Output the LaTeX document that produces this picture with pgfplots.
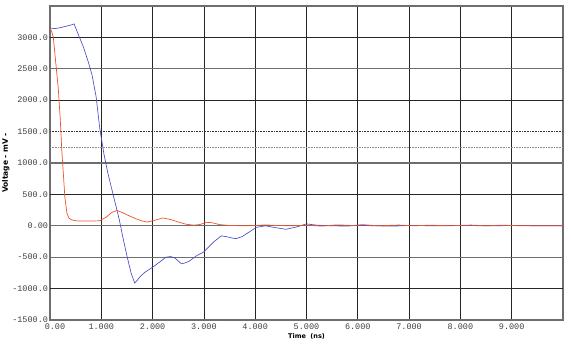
\documentclass[border=0pt]{standalone}
\usepackage{pgfplots}
\pgfplotsset{compat=1.18}
\usepackage{fontspec}
\setmainfont{Liberation Mono}
\newfontfamily\labfont{DejaVu Sans}
\definecolor{bl}{RGB}{75,75,200}
\definecolor{orr}{RGB}{235,85,40}
\definecolor{gl}{RGB}{110,110,110}
\begin{document}
\begin{tikzpicture}
\begin{axis}[name=ax,
  scale only axis, width=513pt, height=314pt,
  xmin=0, xmax=10, ymin=-1500, ymax=3500,
  xtick={0,1,...,9}, xticklabels={\hspace*{10pt}0.00,1.000,2.000,3.000,4.000,5.000,6.000,7.000,8.000,9.000},
  ytick={-1500,-1000,...,3000}, yticklabels={-1500.0,-1000.0,-500.0,0.00,500.0,1000.0,1500.0,2000.0,2500.0,3000.0},
  tick label style={font=\fontsize{8.5}{9}\selectfont, text=black!75},
  xticklabel style={yshift=0pt},
  yticklabel style={xshift=1.5pt},
  major tick length=0pt,
  xmajorgrids=true, major grid style={black!85, line width=0.7pt},
  axis line style={gl, line width=1.3pt},
  xlabel={\labfont\bfseries Time\ \ (ns)}, xlabel style={font=\fontsize{6.5}{7}\selectfont, yshift=3pt},
  ylabel={\labfont\bfseries Voltage - mV -}, ylabel style={font=\fontsize{7.5}{8}\selectfont, yshift=-4pt},
  clip=true,
]
\addplot[black!85, line width=0.7pt, forget plot] coordinates {(0,3000) (10,3000)};
\addplot[black!85, line width=0.7pt, forget plot] coordinates {(0,2000) (10,2000)};
\addplot[black!85, line width=0.7pt, forget plot] coordinates {(0,500) (10,500)};
\addplot[black!85, line width=0.7pt, forget plot] coordinates {(0,-1000) (10,-1000)};
\addplot[gl, line width=1.3pt, forget plot] coordinates {(0,2500) (10,2500)};
\addplot[gl, line width=1.3pt, forget plot] coordinates {(0,1000) (10,1000)};
\addplot[gl, line width=1.3pt, forget plot] coordinates {(0,-500) (10,-500)};
\addplot[gl, line width=1.3pt, forget plot] coordinates {(0,0) (10,0)};
\addplot[black!80, densely dotted, line width=0.6pt, forget plot] coordinates {(0,1500) (10,1500)};
\addplot[black!45, densely dotted, line width=0.6pt, forget plot] coordinates {(0,1250) (10,1250)};
\addplot[bl, line width=0.65pt] coordinates {
(0,3150) (0.1,3140) (0.2,3155) (0.3,3175) (0.4,3195) (0.47,3215) (0.55,3050) (0.65,2850) (0.75,2600) (0.82,2400) (0.9,2050) (0.97,1550) (1.05,1150) (1.13,830) (1.2,600) (1.26,400) (1.35,100) (1.42,-180) (1.5,-480) (1.58,-750) (1.65,-910) (1.7,-870) (1.75,-815) (1.85,-740) (2.0,-660) (2.15,-570) (2.26,-500) (2.35,-490) (2.43,-510) (2.5,-560) (2.56,-605) (2.64,-590) (2.72,-560) (2.85,-480) (2.99,-420) (3.1,-330) (3.2,-250) (3.34,-160) (3.45,-175) (3.55,-195) (3.63,-205) (3.75,-170) (3.9,-90) (4.02,-25) (4.2,0) (4.4,-30) (4.6,-55) (4.8,-20) (5.0,30) (5.2,10) (5.5,0) (5.8,-5) (6.0,10) (6.3,0) (6.7,-5) (7.0,5) (7.5,0) (8.0,5) (8.5,0) (9.0,3) (10,0)};
\addplot[orr, line width=0.7pt] coordinates {
(0,3150) (0.03,3100) (0.065,3000) (0.1,2700) (0.13,2450) (0.16,2200) (0.2,1700) (0.23,1200) (0.26,830) (0.29,455) (0.33,200) (0.37,120) (0.42,95) (0.5,80) (0.6,75) (0.8,75) (0.97,80) (1.1,140) (1.2,210) (1.3,245) (1.4,215) (1.5,175) (1.65,120) (1.8,75) (1.9,60) (2.05,90) (2.2,125) (2.35,100) (2.5,60) (2.65,25) (2.8,10) (2.92,20) (3.05,55) (3.15,50) (3.3,20) (3.5,5) (3.8,0) (4.0,5) (4.2,15) (4.4,5) (4.7,0) (5.0,10) (5.3,-5) (5.6,15) (5.9,5) (6.1,18) (6.4,0) (6.8,12) (7.1,0) (7.4,10) (7.8,0) (8.2,12) (8.5,0) (8.8,10) (9.2,0) (10,0)};
\end{axis}
\pgfresetboundingbox
\path ([shift={(-50pt,-27pt)}]ax.south west) rectangle ([shift={(8pt,6pt)}]ax.north east);
\end{tikzpicture}
\end{document}
